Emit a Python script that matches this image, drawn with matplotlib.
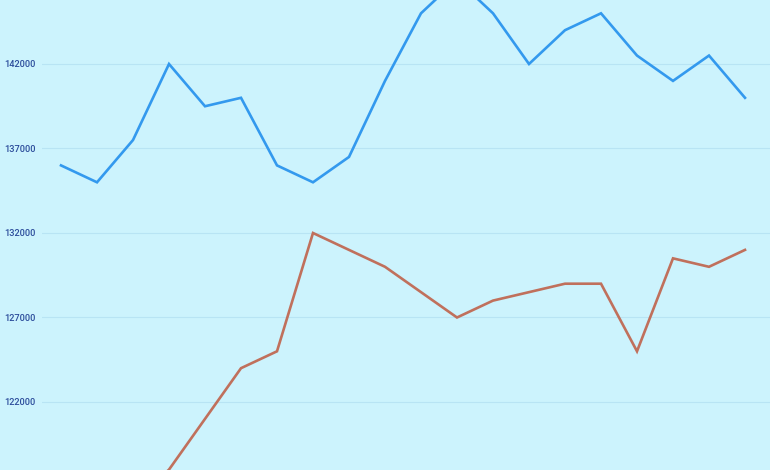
import matplotlib
matplotlib.use("Agg")
import matplotlib.pyplot as plt

# values (first red points sit below the visible area)
steps = list(range(20))
blue_vals = [136000, 135000, 137500, 142000, 139500, 140000, 136000, 135000,
             136500, 141000, 145000, 147000, 145000, 142000, 144000, 145000,
             142500, 141000, 142500, 140000]
red_vals = [112000, 114000, 116000, 118000, 121000, 124000, 125000, 132000,
            131000, 130000, 128500, 127000, 128000, 128500, 129000, 129000,
            125000, 130500, 130000, 131000]
y_ticks = [122000, 127000, 132000, 137000, 142000]

bg = "#ccf3fd"

fig = plt.figure(figsize=(7.7, 4.7), dpi=100)
fig.patch.set_facecolor(bg)
ax = fig.add_axes([42 / 770, 0, 728 / 770, 1])
ax.set_facecolor(bg)

ax.plot(steps, blue_vals, color="#3399ee", linewidth=1.9, solid_joinstyle="miter")
ax.plot(steps, red_vals, color="#c0705c", linewidth=1.9, solid_joinstyle="miter")

ax.set_xlim(-19 / 36, 19 + 25 / 36)
ax.set_ylim(117976, 145787)
ax.set_yticks(y_ticks)
ax.set_yticklabels([str(v) for v in y_ticks], fontsize=6.7, fontweight="medium",
                   color="#2b4c9b", family="Roboto", ha="left")
# labels start ~4px from the left edge
ax.tick_params(axis="y", length=0, pad=27)
ax.set_xticks([])
ax.grid(axis="y", color="#b8e4f4", linewidth=0.8)
ax.set_axisbelow(True)
for side in ax.spines.values():
    side.set_visible(False)

fig.savefig("out.png", dpi=100, facecolor=bg)
